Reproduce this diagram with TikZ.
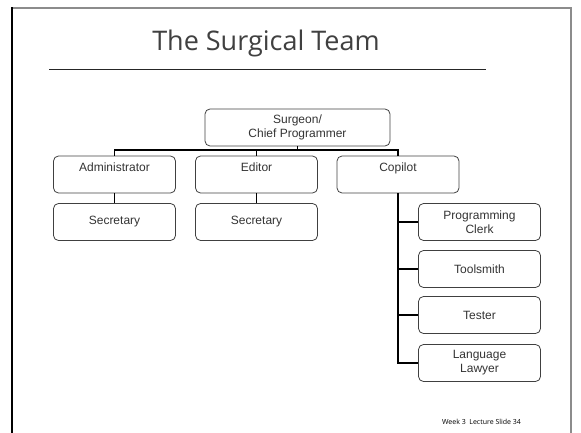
\documentclass[tikz,border=0pt]{standalone}
\usepackage{fontspec}
\setmainfont{Liberation Sans}
\newfontfamily\titlefont{Open Sans}
\usetikzlibrary{positioning}

\begin{document}
\begin{tikzpicture}[x=1pt,y=-1pt,
	role/.style={draw=black!75, line width=0.8pt, rounded corners=5pt, minimum width=122pt, minimum height=37pt, inner sep=0pt, align=center, text=black!80, font=\fontsize{12}{14}\selectfont},
	conn/.style={line width=1.8pt, black}]

	\useasboundingbox (0,0) rectangle (581,433);
	% slide frame
	\draw [black!45, line width=1.2pt] (12,8) -- (571,8) -- (571,433);
	\draw [black, line width=2pt] (12,7.4) -- (12,433);
	% title
	\node (title) at (266,43) {\titlefont\fontsize{27}{30}\selectfont\color{black!75}The Surgical Team};
	\draw [black!85, line width=0.9pt] (49,69) -- (486,69);

	% chief
	\node[role, minimum width=185pt] (surgeon) at (297.5,127.5) {Surgeon/\\Chief Programmer};
	% second row
	\node[role] (admin) at (114.5,174.5) {Administrator\\\mbox{}};
	\node[role] (editor) at (256.5,174.5) {Editor\\\mbox{}};
	\node[role] (copilot) at (398,174.5) {Copilot\\\mbox{}};
	% secretaries
	\node[role] (adminsec) at (114.5,222) {Secretary};
	\node[role] (editorsec) at (256.5,222) {Secretary};
	% copilot's helpers
	\node[role] (clerk) at (479.5,222) {Programming\\Clerk};
	\node[role] (toolsmith) at (479.5,269) {Toolsmith};
	\node[role] (tester) at (479.5,315) {Tester};
	\node[role] (lawyer) at (479.5,363) {Language\\Lawyer};

	% tree lines
	\coordinate (bus) at (0,150);
	\draw [conn] (surgeon.south) -- (surgeon.south |- bus);
	\draw [conn] (admin.north) |- (copilot.north |- bus) -- (copilot.north);
	\draw [conn] (editor.north) -- (editor.north |- bus);
	\draw [conn] (admin.south) -- (adminsec.north);
	\draw [conn] (editor.south) -- (editorsec.north);
	\draw [conn] (copilot.south) |- (lawyer.west);
	\draw [conn] (copilot.south |- clerk.west) -- (clerk.west);
	\draw [conn] (copilot.south |- toolsmith.west) -- (toolsmith.west);
	\draw [conn] (copilot.south |- tester.west) -- (tester.west);

	% footer
	\node (footer) at (481.5,422) {\titlefont\fontsize{7}{8}\selectfont Week 3\ \ Lecture Slide 34};

\end{tikzpicture}
\end{document}
